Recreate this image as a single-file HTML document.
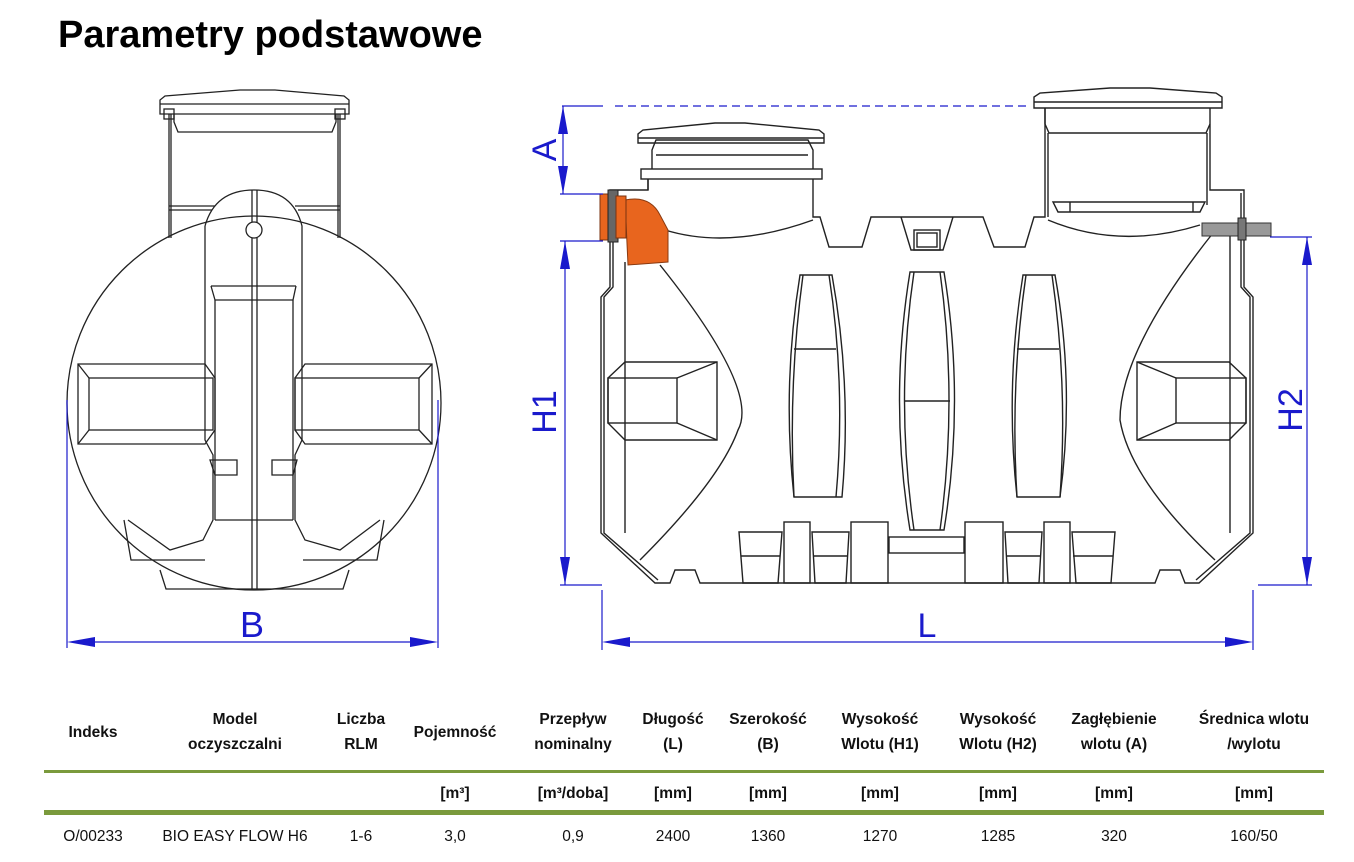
<!DOCTYPE html>
<html><head><meta charset="utf-8"><style>
html,body{margin:0;padding:0;background:#fff;width:1354px;height:862px;overflow:hidden}
svg{display:block}
.t{font-family:"Liberation Sans",sans-serif}
.h{font-family:"Liberation Sans",sans-serif;font-weight:bold;font-size:15.5px;fill:#111;text-anchor:middle}
.d{font-family:"Liberation Sans",sans-serif;font-size:15.5px;fill:#111;text-anchor:middle}
</style></head><body>
<svg width="1354" height="862" viewBox="0 0 1354 862" xmlns="http://www.w3.org/2000/svg">
<text x="58" y="47" class="t" font-size="38" font-weight="bold" fill="#000">Parametry podstawowe</text>

<!-- LEFT VIEW -->
<g fill="none" stroke="#222" stroke-width="1.3">
  <path d="M160 114 V100 L165 96 L240 90 H275 L344 96 L349 100 V114 Z" fill="#fff"/>
  <line x1="160" y1="104" x2="349" y2="104"/>
  <rect x="164" y="109" width="10" height="10"/><rect x="335" y="109" width="10" height="10"/>
  <path d="M174 114 V122 L178 132 H332 L336 122 V114"/>
  <line x1="169" y1="114" x2="169" y2="238"/><line x1="340" y1="114" x2="340" y2="238"/>
  <line x1="171" y1="114" x2="171" y2="238"/><line x1="338" y1="114" x2="338" y2="238"/>
  <line x1="169" y1="206" x2="215" y2="206"/><line x1="295" y1="206" x2="340" y2="206"/>
  <line x1="169" y1="210" x2="212" y2="210"/><line x1="298" y1="210" x2="340" y2="210"/>
  <path d="M124 520 L131 560 H205"/><path d="M384 520 L377 560 H303"/>
  <path d="M160 570 L166 589 H343 L349 570"/>
  <circle cx="254" cy="403" r="187" fill="none"/>
  <path d="M205 226 Q215 190 254 190 Q293 190 302 226 V440 L295 455 V520 L305 540 L340 550 L380 520" fill="none"/>
  <path d="M205 226 V440 L213 455 V520 L203 540 L170 550 L128 520" fill="none"/>
  <line x1="211" y1="286" x2="296" y2="286"/>
  <path d="M211 286 L215 300 H293 L296 286"/>
  <line x1="215" y1="300" x2="215" y2="520"/><line x1="293" y1="300" x2="293" y2="520"/>
  <line x1="215" y1="520" x2="293" y2="520"/>
  <line x1="252" y1="190" x2="252" y2="590"/><line x1="257" y1="190" x2="257" y2="590"/>
  <circle cx="254" cy="230" r="8" fill="#fff"/>
  <path d="M78 364 H205 L215 378 V430 L205 444 H78 Z"/>
  <rect x="89" y="378" width="124" height="52"/>
  <line x1="78" y1="364" x2="89" y2="378"/><line x1="78" y1="444" x2="89" y2="430"/>
  <path d="M432 364 H305 L295 378 V430 L305 444 H432 Z"/>
  <rect x="295" y="378" width="124" height="52"/>
  <line x1="432" y1="364" x2="419" y2="378"/><line x1="432" y1="444" x2="419" y2="430"/>
  <path d="M210 460 H237 V475 H215 Z"/><path d="M297 460 H272 V475 H293 Z"/>
</g>
<g stroke="#1a1acc" stroke-width="1.2" fill="#1a1acc">
  <line x1="67" y1="400" x2="67" y2="648"/><line x1="438" y1="400" x2="438" y2="648"/>
  <line x1="80" y1="642" x2="425" y2="642"/>
  <path d="M67 642 L95 637 L95 647 Z" stroke="none"/><path d="M438 642 L410 637 L410 647 Z" stroke="none"/>
</g>
<text x="252" y="637" class="t" font-size="36" fill="#1a1acc" text-anchor="middle">B</text>

<!-- RIGHT VIEW -->
<g fill="none" stroke="#222" stroke-width="1.4">
  <path d="M1210 108 V190 H1244 V287 L1253 297 V533 L1199 583 H1185 L1180 570 H1160 L1155 583 H700 L695 570 H675 L670 583 H655 L601 533 V297 L610 287 V190 H648 V179"/>
  <path d="M813 179 V217 H820 L829 247 H862 L871 217 H983 L994 247 H1025 L1034 217 H1045 V108"/>
  <path d="M613 193 V287 L604 297 V533 L658 580"/>
  <path d="M1241 193 V287 L1250 297 V533 L1196 580"/>
  <rect x="641" y="169" width="181" height="10"/>
  <path d="M652 169 V150 L656 140 H808 L813 150 V169"/>
  <path d="M638 143 V134 L643 130 L715 123 H745 L819 130 L824 134 V143 Z"/>
  <line x1="638" y1="138" x2="824" y2="138"/>
  <line x1="656" y1="155" x2="808" y2="155"/>
  <line x1="648" y1="179" x2="648" y2="190"/>
  <path d="M1034 108 V97 L1040 93 L1110 88 H1150 L1216 93 L1222 97 V108 Z"/>
  <line x1="1034" y1="102" x2="1222" y2="102"/>
  <path d="M1045 108 V124 L1049 133 H1206 L1210 124"/>
  <line x1="1048" y1="133" x2="1048" y2="217"/><line x1="1207" y1="133" x2="1207" y2="205"/>
  <path d="M1053 202 H1205 L1200 212 H1058 Z"/>
  <line x1="1070" y1="202" x2="1070" y2="212"/><line x1="1193" y1="202" x2="1193" y2="212"/>
  <path d="M665 230 Q730 250 813 220"/>
  <path d="M1048 220 Q1120 250 1200 225"/>
  <path d="M901 217 L911 250 H943 L953 217"/>
  <rect x="914" y="230" width="26" height="20"/><rect x="917" y="233" width="20" height="14"/>
  <path d="M660 265 Q760 390 738 430 Q720 480 640 560"/>
  <path d="M1213 233 Q1120 350 1120 420 Q1130 480 1215 560"/>
  <line x1="625" y1="262" x2="625" y2="533"/><line x1="1230" y1="230" x2="1230" y2="533"/>
  <path d="M608 378 L625 362 H717 V440 H625 L608 423 Z"/>
  <rect x="608" y="378" width="69" height="45"/>
  <line x1="677" y1="378" x2="717" y2="362"/><line x1="677" y1="423" x2="717" y2="440"/>
  <path d="M1246 378 L1229 362 H1137 V440 H1229 L1246 423 Z"/>
  <rect x="1176" y="378" width="70" height="45"/>
  <line x1="1176" y1="378" x2="1137" y2="362"/><line x1="1176" y1="423" x2="1137" y2="440"/>
  <path d="M800 275 H832 Q852 386 842 497 H794 Q782 386 800 275 Z"/>
  <path d="M794 349 H836"/><path d="M803 275 Q788 386 794 497 M829 275 Q846 386 836 497"/>
  <path d="M910 272 H944 Q965 400 944 530 H910 Q889 400 910 272 Z"/>
  <line x1="904" y1="401" x2="950" y2="401"/><path d="M914 272 Q895 400 914 530 M940 272 Q958 400 940 530"/>
  <path d="M1023 275 H1055 Q1075 386 1060 497 H1017 Q1005 386 1023 275 Z"/>
  <path d="M1017 349 H1059"/><path d="M1026 275 Q1010 386 1017 497 M1052 275 Q1068 386 1060 497"/>
  <path d="M739 532 H782 L778 583 H743 Z"/><line x1="741" y1="556" x2="780" y2="556"/>
  <rect x="784" y="522" width="26" height="61"/>
  <path d="M812 532 H849 L846 583 H815 Z"/><line x1="813" y1="556" x2="848" y2="556"/>
  <rect x="851" y="522" width="37" height="61"/>
  <rect x="889" y="537" width="75" height="16"/>
  <rect x="965" y="522" width="38" height="61"/>
  <path d="M1005 532 H1042 L1039 583 H1008 Z"/><line x1="1006" y1="556" x2="1041" y2="556"/>
  <rect x="1044" y="522" width="26" height="61"/>
  <path d="M1072 532 H1115 L1111 583 H1076 Z"/><line x1="1073" y1="556" x2="1113" y2="556"/>
</g>
<path d="M625 200 Q650 195 660 215 L668 230 V262 L628 265 Z" fill="#e8651e" stroke="#8a3a10" stroke-width="1"/>
<rect x="600" y="194" width="10" height="46" fill="#e8651e" stroke="#7a3310"/>
<rect x="608" y="190" width="10" height="52" fill="#666" stroke="#222"/>
<rect x="616" y="196" width="10" height="42" fill="#e8651e" stroke="#7a3310"/>
<rect x="1202" y="223" width="69" height="13" fill="#999" stroke="#333"/>
<rect x="1238" y="218" width="8" height="22" fill="#777" stroke="#222"/>

<g stroke="#1a1acc" stroke-width="1.2" fill="#1a1acc">
  <line x1="562" y1="106" x2="603" y2="106"/>
  <line x1="615" y1="106" x2="1030" y2="106" stroke-dasharray="8,5"/>
  <line x1="563" y1="106" x2="563" y2="194"/>
  <line x1="560" y1="194" x2="603" y2="194"/>
  <line x1="560" y1="241" x2="603" y2="241"/>
  <line x1="565" y1="241" x2="565" y2="585"/>
  <line x1="560" y1="585" x2="602" y2="585"/>
  <line x1="602" y1="590" x2="602" y2="650"/><line x1="1253" y1="590" x2="1253" y2="650"/>
  <line x1="610" y1="642" x2="1245" y2="642"/>
  <line x1="1270" y1="237" x2="1312" y2="237"/><line x1="1258" y1="585" x2="1312" y2="585"/>
  <line x1="1307" y1="237" x2="1307" y2="585"/>
  <g stroke="none">
    <path d="M563 106 L558 134 L568 134 Z"/><path d="M563 194 L558 166 L568 166 Z"/>
    <path d="M565 241 L560 269 L570 269 Z"/><path d="M565 585 L560 557 L570 557 Z"/>
    <path d="M1307 237 L1302 265 L1312 265 Z"/><path d="M1307 585 L1302 557 L1312 557 Z"/>
    <path d="M602 642 L630 637 L630 647 Z"/><path d="M1253 642 L1225 637 L1225 647 Z"/>
  </g>
</g>
<g class="t" font-size="34" fill="#1a1acc" text-anchor="middle">
  <text transform="translate(556 150) rotate(-90)">A</text>
  <text transform="translate(556 412) rotate(-90)">H1</text>
  <text transform="translate(1302 410) rotate(-90)">H2</text>
  <text x="927" y="637">L</text>
</g>

<text class="h" x="93" y="737">Indeks</text>
<text class="h" x="235" y="724">Model</text><text class="h" x="235" y="749">oczyszczalni</text>
<text class="h" x="361" y="724">Liczba</text><text class="h" x="361" y="749">RLM</text>
<text class="h" x="455" y="737">Pojemność</text>
<text class="h" x="573" y="724">Przepływ</text><text class="h" x="573" y="749">nominalny</text>
<text class="h" x="673" y="724">Długość</text><text class="h" x="673" y="749">(L)</text>
<text class="h" x="768" y="724">Szerokość</text><text class="h" x="768" y="749">(B)</text>
<text class="h" x="880" y="724">Wysokość</text><text class="h" x="880" y="749">Wlotu (H1)</text>
<text class="h" x="998" y="724">Wysokość</text><text class="h" x="998" y="749">Wlotu (H2)</text>
<text class="h" x="1114" y="724">Zagłębienie</text><text class="h" x="1114" y="749">wlotu (A)</text>
<text class="h" x="1254" y="724">Średnica wlotu</text><text class="h" x="1254" y="749">/wylotu</text>
<rect x="44" y="770" width="1280" height="3" fill="#7a9a3c"/>
<text class="h" x="455" y="798">[m³]</text>
<text class="h" x="573" y="798">[m³/doba]</text>
<text class="h" x="673" y="798">[mm]</text>
<text class="h" x="768" y="798">[mm]</text>
<text class="h" x="880" y="798">[mm]</text>
<text class="h" x="998" y="798">[mm]</text>
<text class="h" x="1114" y="798">[mm]</text>
<text class="h" x="1254" y="798">[mm]</text>
<rect x="44" y="810" width="1280" height="5" fill="#7a9a3c"/>
<text class="d" x="93" y="841">O/00233</text>
<text class="d" x="235" y="841">BIO EASY FLOW H6</text>
<text class="d" x="361" y="841">1-6</text>
<text class="d" x="455" y="841">3,0</text>
<text class="d" x="573" y="841">0,9</text>
<text class="d" x="673" y="841">2400</text>
<text class="d" x="768" y="841">1360</text>
<text class="d" x="880" y="841">1270</text>
<text class="d" x="998" y="841">1285</text>
<text class="d" x="1114" y="841">320</text>
<text class="d" x="1254" y="841">160/50</text>
</svg>
</body></html>
